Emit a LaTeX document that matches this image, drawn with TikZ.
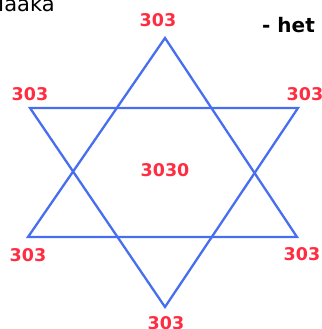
\documentclass[tikz,border=0pt]{standalone}
\usepackage{fontspec}
\setmainfont{DejaVu Sans}
\usepackage{xcolor}
\usetikzlibrary{positioning}
\definecolor{starblue}{RGB}{72,110,240}
\definecolor{numred}{RGB}{255,45,65}

\begin{document}
\begin{tikzpicture}[
  x=1pt, y=-1pt,
  edge/.style={draw=starblue, line width=2.3pt, line join=miter},
  num/.style={text=numred, inner sep=0pt, font=\fontsize{17.5}{19}\selectfont\bfseries},
  word/.style={text=black, inner sep=0pt, anchor=base west}]
\clip (0,0) rectangle (321,329);
\useasboundingbox (0,0) rectangle (321,329);
% vertices of the two triangles
\coordinate (top) at (165,38);
\coordinate (bl) at (28,237);
\coordinate (br) at (297,237);
\coordinate (tl) at (30,108);
\coordinate (tr) at (298,108);
\coordinate (bot) at (165,307);
\draw[edge] (top) -- (bl) -- (br) -- cycle;
\draw[edge] (tl) -- (tr) -- (bot) -- cycle;
% labels
\node[num] (ntop) at (158,20) {303};
\node[num] (ntl) at (30,94) {303};
\node[num] (ntr) at (305,94) {303};
\node[num] (nbl) at (28,255) {303};
\node[num] (nbr) at (302,254) {303};
\node[num] (nbot) at (166,323) {303};
\node[num] (nmid) at (165,170) {3030};
\node[word, font=\fontsize{21}{23}\selectfont] (maaka) at (-14,12) {Maaka};
\node[word, font=\fontsize{20}{22}\selectfont\bfseries] (het) at (262,33) {- het};
\end{tikzpicture}
\end{document}
